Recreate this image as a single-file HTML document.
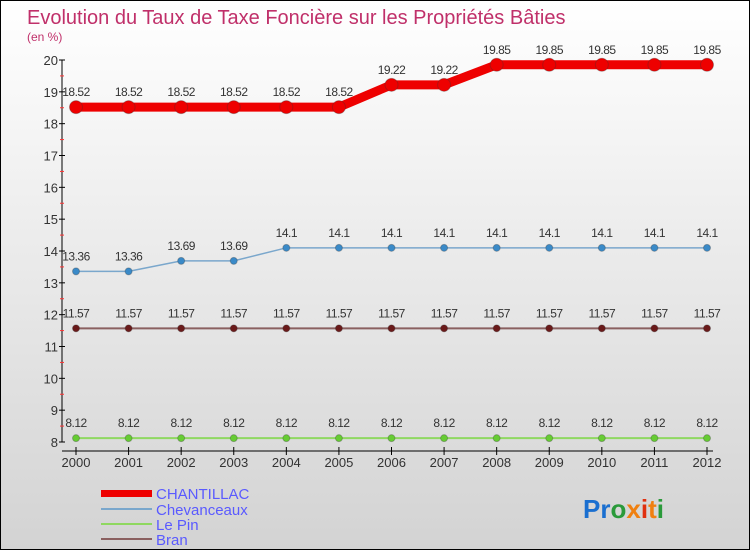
<!DOCTYPE html>
<html><head><meta charset="utf-8"><style>
body{margin:0}
#c{width:748px;height:548px;border:1px solid #000;background:linear-gradient(#fff,#d3d3d3);position:relative;font-family:"Liberation Sans",sans-serif}
</style></head><body>
<div id="c">
<svg id="s" width="748" height="548" style="position:absolute;left:0;top:0">
<text x="26" y="23" font-size="20" fill="#c0306a">Evolution du Taux de Taxe Foncière sur les Propriétés Bâties</text>
<text x="26" y="40" font-size="12" fill="#c0306a">(en %)</text>
<g id="g"></g>
<g>
<rect x="100" y="489" width="51" height="7" fill="#e00"/>
<text x="155" y="498" font-size="15" fill="#5a5aff">CHANTILLAC</text>
<rect x="100" y="507" width="51" height="2" fill="#7aa7cc"/>
<text x="155" y="514" font-size="15" fill="#5a5aff">Chevanceaux</text>
<rect x="100" y="522" width="51" height="2" fill="#8fd860"/>
<text x="155" y="529" font-size="15" fill="#5a5aff">Le Pin</text>
<rect x="100" y="537" width="51" height="2" fill="#8a6060"/>
<text x="155" y="544" font-size="15" fill="#5a5aff">Bran</text>
</g>
<text x="582" y="517" font-size="26" font-weight="bold"><tspan fill="#1a6fd0">Pr</tspan><tspan fill="#2a9a3a">o</tspan><tspan fill="#f08010">x</tspan><tspan fill="#e03010">i</tspan><tspan fill="#f08010">t</tspan><tspan fill="#2a9a3a">i</tspan></text>
</svg></div>
<script>
const years=[2000,2001,2002,2003,2004,2005,2006,2007,2008,2009,2010,2011,2012];
const chantillac=[18.52,18.52,18.52,18.52,18.52,18.52,19.22,19.22,19.85,19.85,19.85,19.85,19.85];
const chevanceaux=[13.36,13.36,13.69,13.69,14.1,14.1,14.1,14.1,14.1,14.1,14.1,14.1,14.1];
const lepin=[8.12,8.12,8.12,8.12,8.12,8.12,8.12,8.12,8.12,8.12,8.12,8.12,8.12];
const bran=[11.57,11.57,11.57,11.57,11.57,11.57,11.57,11.57,11.57,11.57,11.57,11.57,11.57];
const yTicks=[8,9,10,11,12,13,14,15,16,17,18,19,20];
const NS="http://www.w3.org/2000/svg";
const g=document.getElementById('g');
const xs=i=>75+i*(706-75)/(years.length-1);
const ys=v=>441-(v-8)*(441-59)/12;
function mk(t,a){const e=document.createElementNS(NS,t);for(const k in a)e.setAttribute(k,a[k]);g.appendChild(e);return e;}
let e=mk('line',{x1:61,y1:59,x2:61,y2:441,stroke:'#000'});


e=mk('line',{x1:61,y1:450,x2:712,y2:450,stroke:'#000'});


yTicks.forEach(v=>{
 let t=mk('line',{x1:58,x2:64,y1:ys(v),y2:ys(v),stroke:'#000'});
 
 
 if(v<20){let h=mk('line',{x1:59,x2:63,y1:ys(v+0.5),y2:ys(v+0.5),stroke:'#f33'});
 
 }
 let l=mk('text',{x:57,y:ys(v)+5,'font-size':13,fill:'#333','text-anchor':'end'});l.textContent=v;
 
 
});
years.forEach((y,i)=>{
 let t=mk('line',{x1:xs(i),x2:xs(i),y1:446,y2:454,stroke:'#000'});
 
 
 let l=mk('text',{x:xs(i),y:466,'font-size':13,fill:'#333','text-anchor':'middle'});l.textContent=y;
 
 
});
function series(d,name,col,w,r,fill){
 let p=mk('polyline',{points:d.map((v,i)=>xs(i)+','+ys(v)).join(' '),fill:'none',stroke:col,'stroke-width':w});
 
 
 d.forEach((v,i)=>{
  let c=mk('circle',{cx:xs(i),cy:ys(v),r:r,fill:fill,stroke:'#333','stroke-opacity':0.3});
  
  
  let l=mk('text',{x:xs(i),y:ys(v)-11,'font-size':12,fill:'#333','text-anchor':'middle','letter-spacing':'-0.5'});l.textContent=v;
  
  
 });
}
series(lepin,'le-pin','#8fd860',2,3.5,'#6c3');
series(bran,'bran','#8a6060',2,3.5,'#6a1a1a');
series(chevanceaux,'chevanceaux','#7aa7cc',1.5,3.5,'#3a8ac8');
series(chantillac,'chantillac','#e00',9,6.5,'#e00');
</script>
</body></html>
